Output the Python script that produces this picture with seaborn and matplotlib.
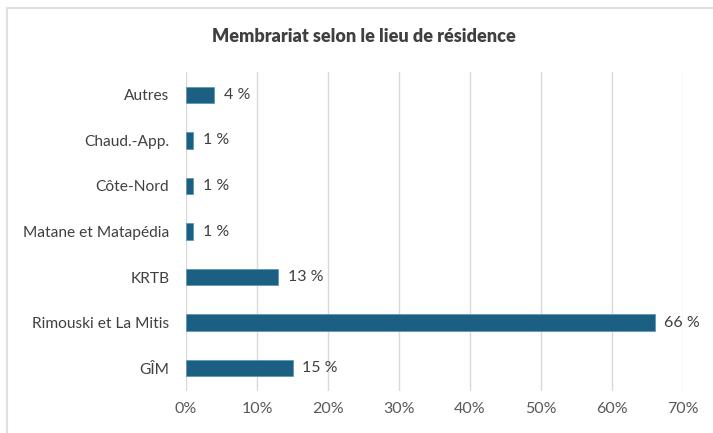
import matplotlib
matplotlib.use("Agg")
import matplotlib.pyplot as plt
from matplotlib.lines import Line2D
import pandas as pd
import seaborn as sns

# data
regions = ["Autres", "Chaud.-App.", "Côte-Nord", "Matane et Matapédia",
           "KRTB", "Rimouski et La Mitis", "GÎM"]
pct = [4, 1, 1, 1, 13, 66, 15]
ticks = [0, 10, 20, 30, 40, 50, 60, 70]

df = pd.DataFrame({"region": regions, "pct": pct})

sns.set_theme(style="white")
plt.rcParams['font.family'] = ['Lato', 'DejaVu Sans']

fig = plt.figure(figsize=(7.13, 4.33), dpi=100)
ax = fig.add_axes([186 / 713, 1 - 391 / 433, (683 - 186) / 713, (391 - 72) / 433])

sns.barplot(data=df, x="pct", y="region", ax=ax, color="#1b5f82",
            width=0.36, saturation=1, edgecolor="#5f97b4", linewidth=0.6,
            order=regions, zorder=3)

ax.set_xlim(0, 70)
ax.set_xticks(ticks)
ax.set_xticklabels([f"{t}%" for t in ticks])
ax.grid(axis="x", color="#d9d9d9", linewidth=1, zorder=0)
for s in ax.spines.values():
    s.set_visible(False)
ax.set_xlabel("")
ax.set_ylabel("")
ax.tick_params(axis="x", colors="#595959", labelsize=11.5, pad=8, length=0)
ax.tick_params(axis="y", colors="#404040", labelsize=11.2, pad=12, length=0)

for i, v in enumerate(pct):
    ax.annotate(f"{v} %", xy=(v, i), xytext=(7, 0), textcoords="offset points",
                va="center", ha="left", fontsize=11.5, color="#404040")

fig.text(364 / 713, 1 - 36 / 433, "Membrariat selon le lieu de résidence",
         ha="center", va="center", fontsize=13, fontweight="heavy", color="#404040")

# light frame on the top and left like the cropped screenshot
fig.add_artist(Line2D([7 / 713, 1], [1 - 8 / 433, 1 - 8 / 433], color="#e0e0e0", lw=1.5,
                      transform=fig.transFigure))
fig.add_artist(Line2D([7 / 713, 7 / 713], [0, 1 - 8 / 433], color="#e0e0e0", lw=1.5,
                      transform=fig.transFigure))

fig.savefig("out.png", dpi=100, facecolor="white")
